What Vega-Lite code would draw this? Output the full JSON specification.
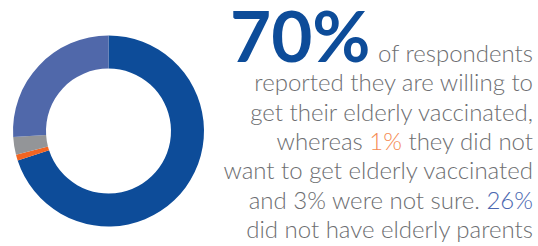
{
  "$schema": "https://vega.github.io/schema/vega-lite/v6.json",
  "padding": {"left": 0, "top": 0, "right": 5, "bottom": 0},
  "background": "white",
  "spacing": 0,
  "config": {"view": {"stroke": null}},
  "hconcat": [
    {
      "width": 217,
      "height": 246,
      "data": {"values": [
        {"answer": "Willing", "pct": 70, "order": 1},
        {"answer": "Not willing", "pct": 1, "order": 2},
        {"answer": "Not sure", "pct": 3, "order": 3},
        {"answer": "No elderly parents", "pct": 26, "order": 4}
      ]},
      "mark": {"type": "arc", "innerRadius": 62.5, "outerRadius": 95.5, "yOffset": 8},
      "encoding": {
        "theta": {"field": "pct", "type": "quantitative", "stack": true},
        "order": {"field": "order", "type": "quantitative"},
        "color": {
          "field": "answer", "type": "nominal", "legend": null,
          "scale": {"domain": ["Willing", "Not willing", "Not sure", "No elderly parents"],
                    "range": ["#0D4C99", "#F26522", "#939598", "#5068AA"]}
        }
      }
    },
    {
      "width": 316,
      "height": 246,
      "data": {"values": [
        {"line": 1, "text": "of respondents", "part": "gray"},
        {"line": 2, "text": "reported they are willing to", "part": "gray"},
        {"line": 3, "text": "get their elderly vaccinated,", "part": "gray"},
        {"line": 4, "text": "whereas  1% they did not", "part": "gray"},
        {"line": 5, "text": "want to get elderly vaccinated", "part": "gray"},
        {"line": 6, "text": "and 3% were not sure. 26%", "part": "gray"},
        {"line": 7, "text": "did not have elderly parents", "part": "gray"},
        {"line": 4, "text": "1% they did not", "part": "orange"},
        {"line": 6, "text": "26%", "part": "blue"},
        {"line": 4, "text": "they did not", "part": "grayover"},
        {"line": 1, "text": "70%", "part": "big"}
      ]},
      "encoding": {
        "y": {"field": "line", "type": "quantitative", "axis": null,
              "scale": {"domain": [1, 7], "range": [62, 238], "zero": false}},
        "text": {"field": "text"}
      },
      "layer": [
        {
          "transform": [{"filter": "datum.part === 'gray'"}],
          "mark": {"type": "text", "align": "right", "baseline": "alphabetic", "font": "Lato", "fontWeight": 300, "fontSize": 24, "color": "#6D6E71"},
          "encoding": {"x": {"value": "width"}}
        },
        {
          "transform": [{"filter": "datum.part === 'orange' || datum.part === 'blue'"}],
          "mark": {"type": "text", "align": "right", "baseline": "alphabetic", "font": "Lato", "fontWeight": 300, "fontSize": 24, "fill": "white", "stroke": "white", "strokeWidth": 2},
          "encoding": {"x": {"value": "width"}}
        },
        {
          "transform": [{"filter": "datum.part === 'orange'"}],
          "mark": {"type": "text", "align": "right", "baseline": "alphabetic", "font": "Lato", "fontWeight": 300, "fontSize": 24, "color": "#F58A52"},
          "encoding": {"x": {"value": "width"}}
        },
        {
          "transform": [{"filter": "datum.part === 'blue'"}],
          "mark": {"type": "text", "align": "right", "baseline": "alphabetic", "font": "Lato", "fontWeight": 300, "fontSize": 24, "color": "#4A66B0"},
          "encoding": {"x": {"value": "width"}}
        },
        {
          "transform": [{"filter": "datum.part === 'grayover'"}],
          "mark": {"type": "text", "align": "right", "baseline": "alphabetic", "font": "Lato", "fontWeight": 300, "fontSize": 24, "fill": "white", "stroke": "white", "strokeWidth": 2},
          "encoding": {"x": {"value": "width"}}
        },
        {
          "transform": [{"filter": "datum.part === 'grayover'"}],
          "mark": {"type": "text", "align": "right", "baseline": "alphabetic", "font": "Lato", "fontWeight": 300, "fontSize": 24, "color": "#6D6E71"},
          "encoding": {"x": {"value": "width"}}
        },
        {
          "transform": [{"filter": "datum.part === 'big'"}],
          "mark": {"type": "text", "align": "left", "baseline": "alphabetic", "font": "Lato", "fontWeight": "bold", "fontSize": 71, "color": "#0D4C99", "dx": 13},
          "encoding": {"x": {"value": 0}}
        }
      ]
    }
  ]
}
